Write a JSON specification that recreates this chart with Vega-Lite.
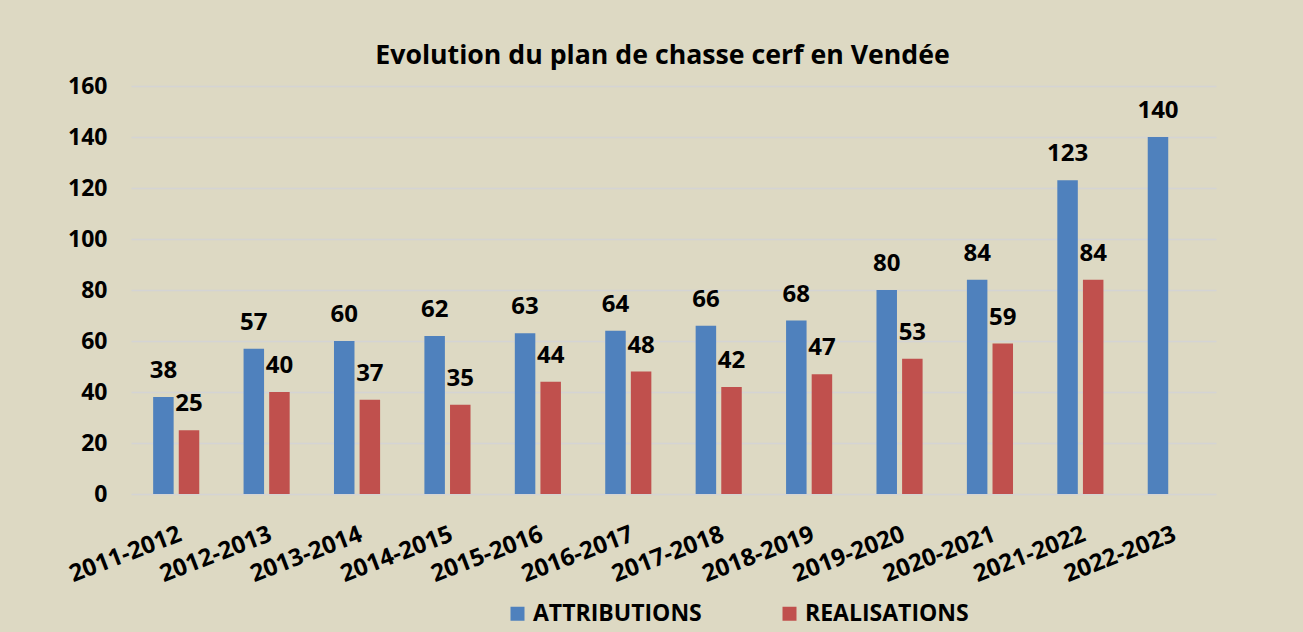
{
  "$schema": "https://vega.github.io/schema/vega-lite/v6.json",
  "width": 1085,
  "height": 408,
  "autosize": {"type": "none"},
  "padding": {"left": 131, "top": 86, "right": 87, "bottom": 138},
  "background": "#ddd9c3",
  "config": {
    "view": {"stroke": null},
    "font": "Open Sans"
  },
  "title": {
    "text": "Evolution du plan de chasse cerf en Vendée",
    "font": "Open Sans",
    "fontSize": 26.7,
    "fontWeight": "bold",
    "color": "#000000",
    "anchor": "middle",
    "dx": -11,
    "offset": 5
  },
  "data": {
    "values": [
      {"saison": "2011-2012", "serie": "ATTRIBUTIONS", "valeur": 38},
      {"saison": "2012-2013", "serie": "ATTRIBUTIONS", "valeur": 57},
      {"saison": "2013-2014", "serie": "ATTRIBUTIONS", "valeur": 60},
      {"saison": "2014-2015", "serie": "ATTRIBUTIONS", "valeur": 62},
      {"saison": "2015-2016", "serie": "ATTRIBUTIONS", "valeur": 63},
      {"saison": "2016-2017", "serie": "ATTRIBUTIONS", "valeur": 64},
      {"saison": "2017-2018", "serie": "ATTRIBUTIONS", "valeur": 66},
      {"saison": "2018-2019", "serie": "ATTRIBUTIONS", "valeur": 68},
      {"saison": "2019-2020", "serie": "ATTRIBUTIONS", "valeur": 80},
      {"saison": "2020-2021", "serie": "ATTRIBUTIONS", "valeur": 84},
      {"saison": "2021-2022", "serie": "ATTRIBUTIONS", "valeur": 123},
      {"saison": "2022-2023", "serie": "ATTRIBUTIONS", "valeur": 140},
      {"saison": "2011-2012", "serie": "REALISATIONS", "valeur": 25},
      {"saison": "2012-2013", "serie": "REALISATIONS", "valeur": 40},
      {"saison": "2013-2014", "serie": "REALISATIONS", "valeur": 37},
      {"saison": "2014-2015", "serie": "REALISATIONS", "valeur": 35},
      {"saison": "2015-2016", "serie": "REALISATIONS", "valeur": 44},
      {"saison": "2016-2017", "serie": "REALISATIONS", "valeur": 48},
      {"saison": "2017-2018", "serie": "REALISATIONS", "valeur": 42},
      {"saison": "2018-2019", "serie": "REALISATIONS", "valeur": 47},
      {"saison": "2019-2020", "serie": "REALISATIONS", "valeur": 53},
      {"saison": "2020-2021", "serie": "REALISATIONS", "valeur": 59},
      {"saison": "2021-2022", "serie": "REALISATIONS", "valeur": 84}
    ]
  },
  "encoding": {
    "x": {
      "field": "saison",
      "type": "nominal",
      "sort": null,
      "scale": {"paddingInner": 0.49, "paddingOuter": 0.245},
      "axis": {
        "title": null,
        "domain": false,
        "ticks": false,
        "labelAngle": -21,
        "labelAlign": "right",
        "labelBaseline": "top",
        "labelPadding": 28,
        "labelFont": "Open Sans",
        "labelFontSize": 24,
        "labelFontWeight": "bold",
        "labelColor": "#000000",
        "labelLimit": 300
      }
    },
    "xOffset": {
      "field": "serie",
      "type": "nominal",
      "scale": {"domain": ["ATTRIBUTIONS", "REALISATIONS"], "paddingInner": 0.2, "paddingOuter": 0}
    },
    "y": {
      "field": "valeur",
      "type": "quantitative",
      "scale": {"domain": [0, 160], "nice": false},
      "axis": {
        "title": null,
        "values": [0, 20, 40, 60, 80, 100, 120, 140, 160],
        "domain": false,
        "ticks": false,
        "labelPadding": 24,
        "labelFont": "Open Sans",
        "labelFontSize": 23,
        "labelFontWeight": "bold",
        "labelColor": "#000000",
        "gridColor": "#d4d4d4",
        "gridWidth": 1.5
      }
    }
  },
  "layer": [
    {
      "mark": {"type": "bar"},
      "encoding": {
        "color": {
          "field": "serie",
          "type": "nominal",
          "scale": {"domain": ["ATTRIBUTIONS", "REALISATIONS"], "range": ["#4f81bd", "#c0504d"]},
          "legend": {
            "title": null,
            "orient": "none",
            "direction": "horizontal",
            "legendX": 375,
            "legendY": 516,
            "padding": 0,
            "symbolType": "square",
            "symbolSize": 196,
            "symbolStrokeWidth": 0,
            "labelFont": "Open Sans",
            "labelFontSize": 23,
            "labelFontWeight": "bold",
            "labelColor": "#000000",
            "labelOffset": 4,
            "columnPadding": 76,
            "labelLimit": 400
          }
        }
      }
    },
    {
      "mark": {
        "type": "text",
        "baseline": "alphabetic",
        "dy": -19,
        "font": "Open Sans",
        "fontSize": 24,
        "fontWeight": "bold",
        "color": "#000000"
      },
      "encoding": {
        "text": {"field": "valeur", "type": "quantitative"}
      }
    }
  ]
}
